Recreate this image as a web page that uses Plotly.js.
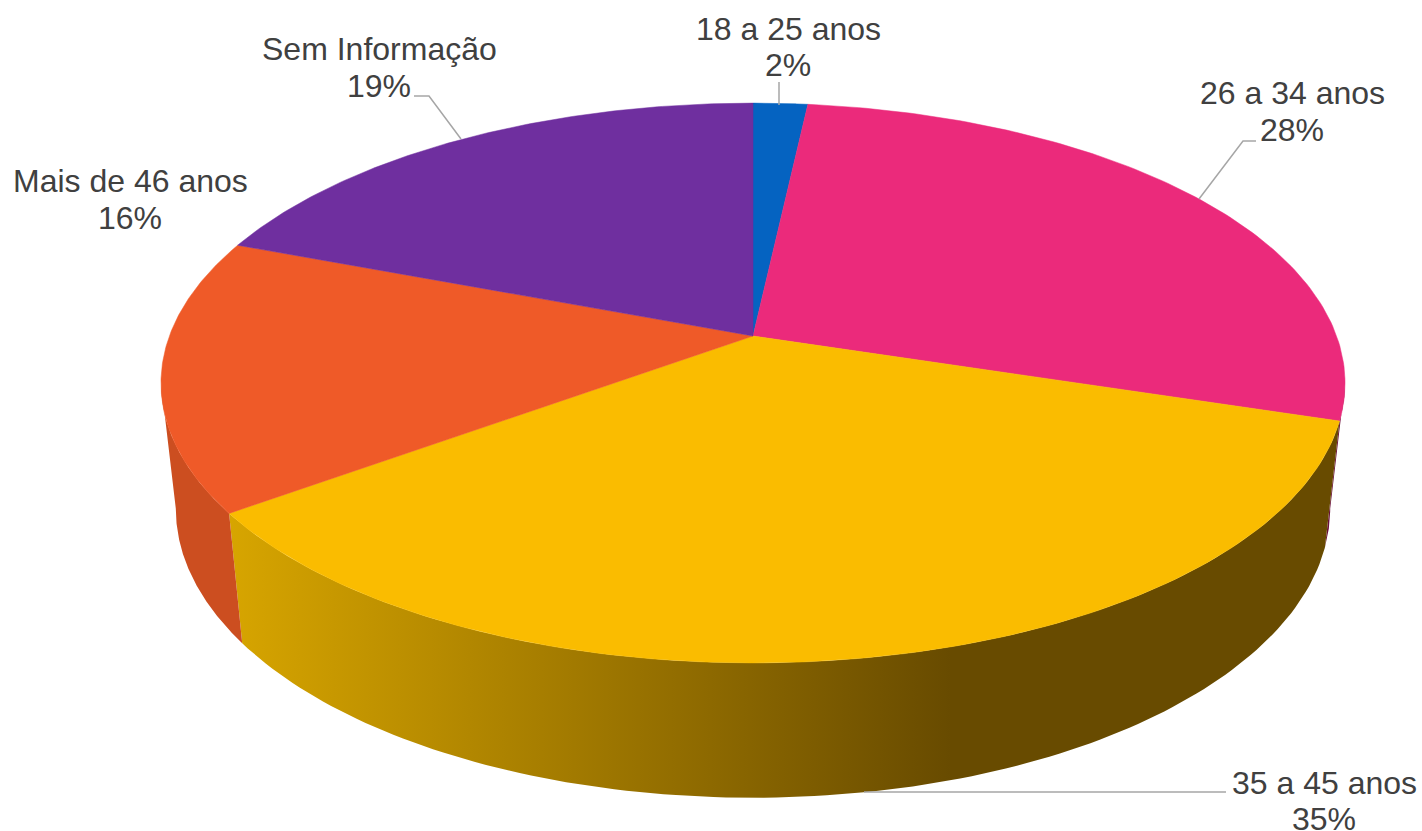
<!DOCTYPE html>
<html><head><meta charset="utf-8">
<script src="https://cdn.plot.ly/plotly-3.0.1.min.js"></script>
<style>html,body{margin:0;padding:0;background:#fff}#c{width:1422px;height:831px}</style>
</head><body><div id="c"></div>
<script>
var categories = ['18 a 25 anos','26 a 34 anos','35 a 45 anos','Mais de 46 anos','Sem Informação'];
var values = [1.75,28.05,35.2,15.75,19.25];
var percentLabels = ['2%','28%','35%','16%','19%'];
var topColors = ['#0563C1','#EB2A7B','#FABC00','#EF5A28','#6F2F9F'];
var wallColors = [
  [[0,'#03366B'],[1,'#03366B']],
  [[0,'#6B0F3A'],[1,'#6B0F3A']],
  [[0,'#D7A500'],[0.65,'#684B00'],[1,'#684B00']],
  [[0,'#CC4E20'],[1,'#CC4E20']],
  [[0,'#3C1A57'],[1,'#3C1A57']]
];
var labelX = [788,1292,1324,130,379];
var nameY = [29,93,783,181,49];
var pctY = [65,130,819,218,86];

// projection of the pie disc
var cx=753, cy=336, a=583.6, b=272, k=0.168;
var lowCx=753, lowCy=460, sx=0.975, sy=1.033;
function topPt(t){var X=Math.sin(t),Y=Math.cos(t),w=1+k*Y;return [cx+a*X/w, cy-b*Y/w];}
function lowPt(t){var p=topPt(t);return [lowCx+sx*(p[0]-cx), lowCy+sy*(p[1]-cy)];}

var total=values.reduce(function(s,v){return s+v;},0);
var traces=[], start=0, N=120;
var bounds=values.map(function(v){var t0=start;start+=v/total*2*Math.PI;return [t0,start];});
var edgeR=Math.PI-Math.asin(k), edgeL=Math.PI+Math.asin(k)+0*k;
edgeR=Math.acos(-k); edgeL=2*Math.PI-Math.acos(-k);

// walls: only the arc facing the viewer, between the two silhouette angles
bounds.forEach(function(bd,i){
  var f0=Math.max(bd[0],edgeR), f1=Math.min(bd[1],edgeL);
  if(f1<=f0) return;
  var xs=[],ys=[],j,t,p;
  for(j=0;j<=N;j++){t=f0+(f1-f0)*j/N;p=topPt(t);xs.push(p[0]);ys.push(p[1]);}
  for(j=N;j>=0;j--){t=f0+(f1-f0)*j/N;p=lowPt(t);xs.push(p[0]);ys.push(p[1]);}
  xs.push(xs[0]);ys.push(ys[0]);
  traces.push({type:'scatter',mode:'lines',x:xs,y:ys,fill:'toself',line:{width:0},
    fillgradient:{type:'horizontal',colorscale:wallColors[i]},hoverinfo:'skip',showlegend:false});
});
// top face
bounds.forEach(function(bd,i){
  var xs=[cx],ys=[cy],j,t,p;
  for(j=0;j<=N;j++){t=bd[0]+(bd[1]-bd[0])*j/N;p=topPt(t);xs.push(p[0]);ys.push(p[1]);}
  xs.push(cx);ys.push(cy);
  traces.push({type:'scatter',mode:'lines',x:xs,y:ys,fill:'toself',fillcolor:topColors[i],
    line:{width:0.5,color:topColors[i]},name:categories[i],hoverinfo:'name',showlegend:false});
});
// leader lines
var leaderX=[[779,779],[1199,1243,1256],[864,1226],null,[461,429,414]];
var leaderY=[[105,82],[199,141,141],[792,792],null,[139,96,96]];
leaderX.forEach(function(lx,i){ if(!lx) return;
  traces.push({type:'scatter',mode:'lines',x:lx,y:leaderY[i],line:{width:1.5,color:'#A6A6A6'},hoverinfo:'skip',showlegend:false});
});
var annotations=[];
function label(x,y,text){annotations.push({x:x,y:y,xref:'x',yref:'y',text:text,showarrow:false,
  font:{family:'Liberation Sans, Arial, sans-serif',size:32,color:'#404040'},align:'center',
  xanchor:'center',yanchor:'middle',borderpad:0});}
categories.forEach(function(c,i){label(labelX[i],nameY[i],c);label(labelX[i],pctY[i],percentLabels[i]);});
Plotly.newPlot('c',traces,{
  width:1422,height:831,margin:{l:0,r:0,t:0,b:0},paper_bgcolor:'#fff',plot_bgcolor:'#fff',
  xaxis:{range:[0,1422],visible:false,fixedrange:true},
  yaxis:{range:[831,0],visible:false,fixedrange:true},
  annotations:annotations,showlegend:false
},{displayModeBar:false,staticPlot:true});
</script></body></html>
